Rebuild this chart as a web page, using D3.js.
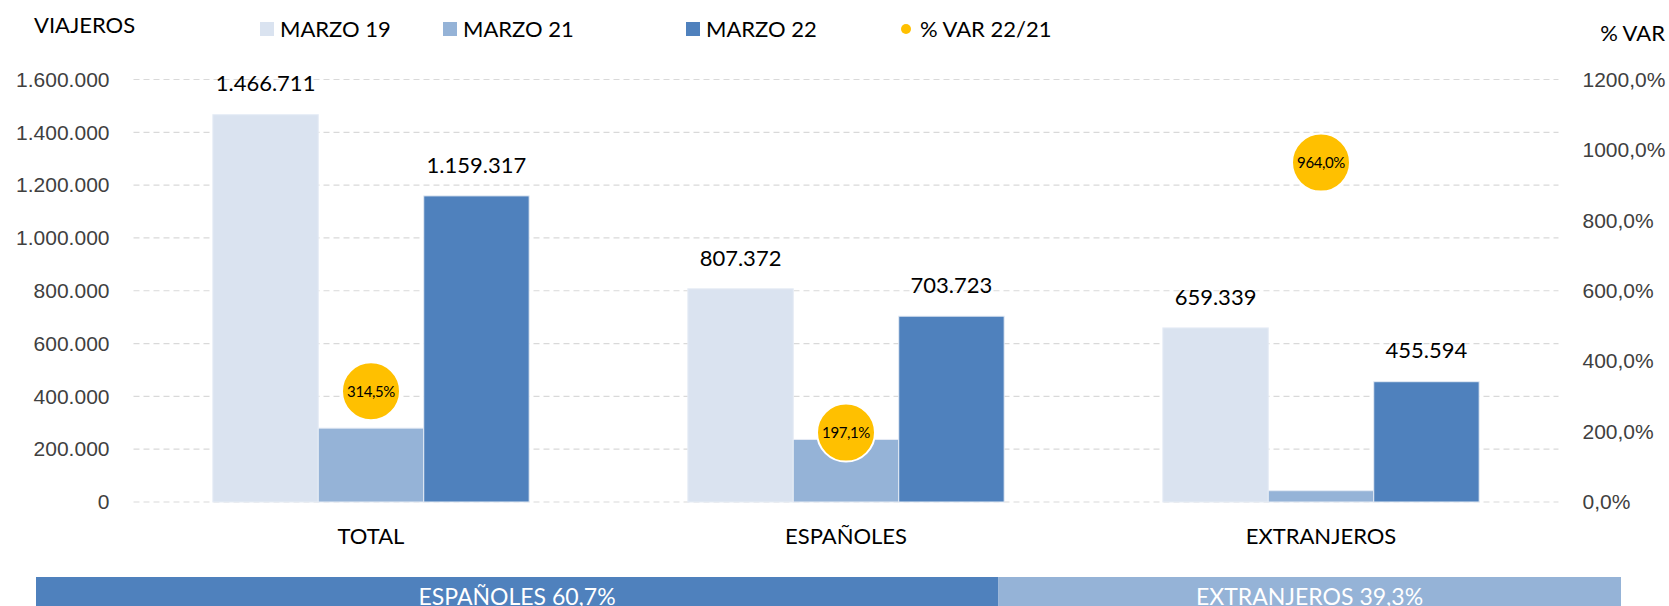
<!DOCTYPE html>
<html>
<head>
<meta charset="utf-8">
<script src="https://cdn.jsdelivr.net/npm/d3@7"></script>
<style>
	body { margin: 0; background: #fff; }
	svg { display: block; font-family: Lato, "Noto Sans", sans-serif; }
	.grid line { stroke: #d9d9d9; stroke-dasharray: 6 4; stroke-width: 1.2; }
	.axis text { font-size: 21px; fill: #404040; }
</style>
</head>
<body>
<script>
//************************************************************
// Data
//************************************************************
var categories = ['TOTAL', 'ESPAÑOLES', 'EXTRANJEROS'];
var seriesNames = ['MARZO 19', 'MARZO 21', 'MARZO 22'];
var marzo19 = [1466711, 807372, 659339];
var marzo21 = [279690, 236864, 42826];
var marzo22 = [1159317, 703723, 455594];
var varPct = [314.5, 197.1, 964.0];
var varName = '% VAR 22/21';
var shareNames = ['ESPAÑOLES', 'EXTRANJEROS'];
var shareValues = [60.7, 39.3];

var colors = ['#dae3f0', '#95b3d7', '#4f81bd'];
var bubbleColor = '#ffc000';

//************************************************************
// Margins, scales
//************************************************************
const W = 1669, H = 606;
const margin = { top: 79.5, right: 110.5, bottom: 104, left: 133.5 };
const width = W - margin.left - margin.right;
const height = H - margin.top - margin.bottom;

const loc = d3.formatLocale({ decimal: ',', thousands: '.', grouping: [3], currency: ['', ''] });
const fmtInt = loc.format(',');
// no thousands separator on the % axis (1200,0%)
const fmtPct = function (d) { return loc.format('.1f')(d) + '%'; };

const x0 = d3.scaleBand()
	.domain(categories)
	.range([0, width])
	.paddingInner(0.334)
	.paddingOuter(0.167);

const x1 = d3.scaleBand()
	.domain(seriesNames)
	.range([0, x0.bandwidth()]);

const yLeft = d3.scaleLinear()
	.domain([0, 1600000])
	.range([height, 0]);

const yRight = d3.scaleLinear()
	.domain([0, 1200])
	.range([height, 0]);

const svg = d3.select('body').append('svg')
	.attr('width', W)
	.attr('height', H);

const g = svg.append('g')
	.attr('transform', 'translate(' + margin.left + ',' + margin.top + ')');

//************************************************************
// Grid and axes
//************************************************************
g.append('g')
	.attr('class', 'grid')
	.selectAll('line')
	.data(yLeft.ticks(8))
	.enter()
	.append('line')
	.attr('x1', 0)
	.attr('x2', width)
	.attr('y1', function (d) { return yLeft(d); })
	.attr('y2', function (d) { return yLeft(d); });

const leftAxis = g.append('g')
	.attr('class', 'axis')
	.call(d3.axisLeft(yLeft).ticks(8).tickSize(0).tickPadding(24).tickFormat(fmtInt));
leftAxis.select('.domain').remove();

const rightAxis = g.append('g')
	.attr('class', 'axis')
	.attr('transform', 'translate(' + width + ',0)')
	.call(d3.axisRight(yRight).ticks(6).tickSize(0).tickPadding(24).tickFormat(fmtPct));
rightAxis.select('.domain').remove();

const xAxis = g.append('g')
	.attr('transform', 'translate(0,' + height + ')')
	.call(d3.axisBottom(x0).tickSize(0).tickPadding(26));
xAxis.select('.domain').remove();
xAxis.selectAll('text')
	.attr('font-size', 22)
	.attr('font-family', 'Lato, sans-serif')
	.attr('fill', '#000');

//************************************************************
// Bars
//************************************************************
var series = [marzo19, marzo21, marzo22];
var rows = categories.map(function (c, i) {
	return seriesNames.map(function (s, j) {
		return { cat: c, name: s, value: series[j][i], idx: j };
	});
});

const groups = g.selectAll('.group')
	.data(rows)
	.enter()
	.append('g')
	.attr('class', 'group')
	.attr('transform', function (d) { return 'translate(' + x0(d[0].cat) + ',0)'; });

groups.selectAll('rect')
	.data(function (d) { return d; })
	.enter()
	.append('rect')
	.attr('x', function (d) { return x1(d.name); })
	.attr('width', x1.bandwidth())
	.attr('y', function (d) { return yLeft(d.value); })
	.attr('height', function (d) { return height - yLeft(d.value); })
	.attr('fill', function (d) { return colors[d.idx]; })
	.attr('stroke', '#e6ecf5')
	.attr('stroke-width', 1);

// value labels only for MARZO 19 and MARZO 22
groups.selectAll('.val')
	.data(function (d) { return d.filter(function (e) { return e.idx !== 1; }); })
	.enter()
	.append('text')
	.attr('class', 'val')
	.attr('x', function (d) { return x1(d.name) + x1.bandwidth() / 2; })
	.attr('y', function (d) { return yLeft(d.value) - 31; })
	.attr('dy', '0.35em')
	.attr('text-anchor', 'middle')
	.attr('font-size', 22)
	.attr('fill', '#000')
	.text(function (d) { return fmtInt(d.value); });

//************************************************************
// % VAR bubbles
//************************************************************
const bubbles = g.selectAll('.bubble')
	.data(varPct)
	.enter()
	.append('g')
	.attr('class', 'bubble')
	.attr('transform', function (d, i) {
		return 'translate(' + (x0(categories[i]) + x1('MARZO 21') + x1.bandwidth() / 2) + ',' + yRight(d) + ')';
	});

bubbles.append('circle')
	.attr('r', 29)
	.attr('fill', bubbleColor)
	.attr('stroke', '#fff')
	.attr('stroke-width', 2);

bubbles.append('text')
	.attr('text-anchor', 'middle')
	.attr('dy', '0.35em')
	.attr('font-size', 15)
	.attr('letter-spacing', -0.4)
	.attr('fill', '#000')
	.text(function (d) { return fmtPct(d); });

//************************************************************
// Titles and legend
//************************************************************
svg.append('text')
	.attr('x', 34)
	.attr('y', 25)
	.attr('dy', '0.35em')
	.attr('font-size', 22)
	.text('VIAJEROS');

svg.append('text')
	.attr('x', 1665)
	.attr('y', 33)
	.attr('dy', '0.35em')
	.attr('text-anchor', 'end')
	.attr('font-size', 22)
	.text('% VAR');

var legendX = [260, 443, 686, 906];
var legendItems = seriesNames.concat([varName]);

const legend = svg.selectAll('.legend')
	.data(legendItems)
	.enter()
	.append('g')
	.attr('class', 'legend')
	.attr('transform', function (d, i) { return 'translate(' + legendX[i] + ',29)'; });

legend.filter(function (d, i) { return i < 3; })
	.append('rect')
	.attr('x', 0)
	.attr('y', -7)
	.attr('width', 14)
	.attr('height', 14)
	.attr('fill', function (d, i) { return colors[i]; });

legend.filter(function (d, i) { return i === 3; })
	.append('circle')
	.attr('r', 5)
	.attr('fill', bubbleColor);

legend.append('text')
	.attr('x', function (d, i) { return i < 3 ? 20 : 14; })
	.attr('dy', '0.35em')
	.attr('font-size', 22)
	.text(function (d) { return d; });

//************************************************************
// Share band at the bottom
//************************************************************
const xShare = d3.scaleLinear()
	.domain([0, d3.sum(shareValues)])
	.range([36, 1621]);

var cum = [0];
shareValues.forEach(function (v, i) { cum.push(cum[i] + v); });

const share = svg.selectAll('.share')
	.data(shareValues)
	.enter()
	.append('g')
	.attr('class', 'share');

share.append('rect')
	.attr('x', function (d, i) { return xShare(cum[i]); })
	.attr('width', function (d) { return xShare(d) - xShare(0); })
	.attr('y', 577)
	.attr('height', 40)
	.attr('fill', function (d, i) { return i === 0 ? colors[2] : colors[1]; });

share.append('text')
	.attr('x', function (d, i) { return xShare(cum[i] + d / 2); })
	.attr('y', 605)
	.attr('text-anchor', 'middle')
	.attr('font-size', 23)
	.attr('fill', '#fff')
	.text(function (d, i) { return shareNames[i] + ' ' + loc.format(',.1f')(d) + '%'; });
</script>
</body>
</html>
